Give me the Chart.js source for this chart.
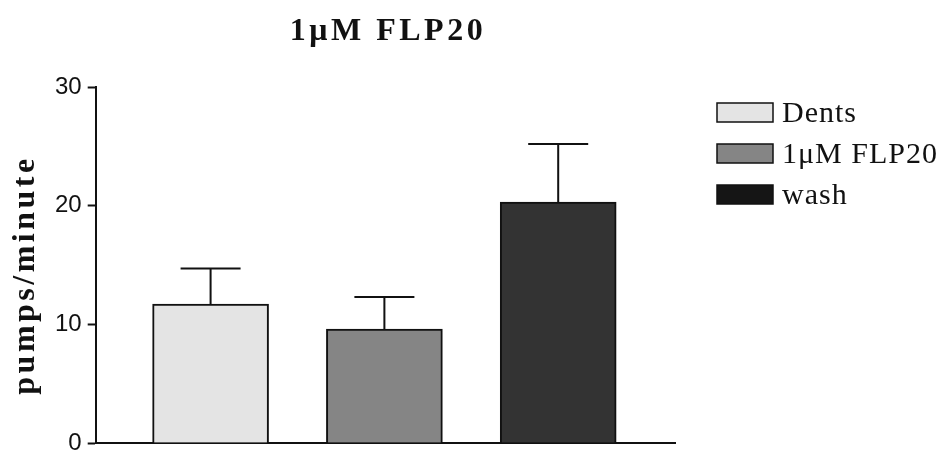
<!DOCTYPE html>
<html>
<head>
<meta charset="utf-8">
<script src="https://cdn.jsdelivr.net/npm/chart.js@4/dist/chart.umd.min.js"></script>
<style>
    html, body { margin: 0; padding: 0; background: #fff; }
    #wrap { width: 946px; height: 453px; }
</style>
</head>
<body>
<div id="wrap"><canvas id="chart"></canvas></div>
<script>
const chartTitle = '1\u03bcM FLP20';
const yLabel = 'pumps/minute';
const groups = ['Dents', '1\u03bcM FLP20', 'wash'];
const means = [11.7, 9.6, 20.3];
const sems = [3.0, 2.7, 4.9];
const fills = ['#e4e4e4', '#858585', '#333333'];
const yTicks = [0, 10, 20, 30];

const INK = '#111';
const SERIF = '"Liberation Serif", "Times New Roman", serif';

// one dataset per group so each bar gets its own legend entry
const datasets = groups.map((name, i) => ({
    label: name,
    data: [{x: i, y: means[i]}],
    backgroundColor: fills[i],
    borderColor: INK,
    borderWidth: 2,
    borderSkipped: 'bottom',
    barThickness: 116,
    grouped: false,
}));

// upper error bars only, SEM above each mean
const errorBars = {
    id: 'errorBars',
    afterDatasetsDraw(chart) {
        const {ctx, scales: {x, y}} = chart;
        ctx.save();
        ctx.strokeStyle = INK;
        ctx.lineWidth = 2;
        means.forEach((m, i) => {
            const px = x.getPixelForValue(i);
            const top = y.getPixelForValue(m + sems[i]);
            ctx.beginPath();
            ctx.moveTo(px, y.getPixelForValue(m));
            ctx.lineTo(px, top);
            ctx.moveTo(px - 30, top);
            ctx.lineTo(px + 30, top);
            ctx.stroke();
        });
        ctx.restore();
    }
};

// title, rotated axis label and legend, drawn with letter spacing
const decorations = {
    id: 'decorations',
    afterDraw(chart) {
        const {ctx, chartArea} = chart;
        ctx.save();
        ctx.fillStyle = INK;
        ctx.textBaseline = 'alphabetic';

        ctx.font = 'bold 32px ' + SERIF;
        ctx.letterSpacing = '3.5px';
        ctx.textAlign = 'center';
        ctx.fillText(chartTitle, 388, 40);

        ctx.save();
        ctx.translate(34, (chartArea.top + chartArea.bottom) / 2 + 10);
        ctx.rotate(-Math.PI / 2);
        ctx.font = 'bold 32px ' + SERIF;
        ctx.letterSpacing = '3.5px';
        ctx.fillText(yLabel, 0, 0);
        ctx.restore();

        ctx.font = '30px ' + SERIF;
        ctx.letterSpacing = '1px';
        ctx.textAlign = 'left';
        const rows = [103, 144, 185];
        groups.forEach((name, i) => {
            const top = rows[i];
            ctx.fillStyle = i === 2 ? '#151515' : fills[i];
            ctx.fillRect(717, top, 56, 19);
            ctx.strokeStyle = INK;
            ctx.lineWidth = 1.5;
            ctx.strokeRect(717, top, 56, 19);
            ctx.fillStyle = INK;
            ctx.fillText(name, 782, top + 19);
        });
        ctx.restore();
    }
};

new Chart(document.getElementById('chart'), {
    type: 'bar',
    data: {datasets},
    options: {
        responsive: true,
        maintainAspectRatio: false,
        animation: false,
        layout: {padding: {top: 87, right: 271, bottom: 10, left: 49}},
        plugins: {
            legend: {display: false},
            title: {display: false},
            tooltip: {enabled: false},
        },
        scales: {
            x: {
                type: 'linear',
                offset: false,
                min: -0.661,
                max: 2.672,
                grid: {display: false, drawTicks: false},
                ticks: {display: false},
                border: {display: true, color: INK, width: 2},
            },
            y: {
                min: yTicks[0],
                max: yTicks[yTicks.length - 1],
                afterBuildTicks(axis) {
                    axis.ticks = yTicks.map(v => ({value: v}));
                },
                grid: {
                    display: true,
                    drawOnChartArea: false,
                    drawTicks: true,
                    tickLength: 8,
                    tickWidth: 2,
                    tickColor: INK,
                },
                border: {display: true, color: INK, width: 2},
                ticks: {
                    color: INK,
                    padding: 6,
                    // small line height keeps the "0" label from pushing the plot up
                    font: {family: '"Liberation Sans", Arial, sans-serif', size: 24, lineHeight: 0.2},
                },
            },
        },
    },
    plugins: [errorBars, decorations],
});
</script>
</body>
</html>
